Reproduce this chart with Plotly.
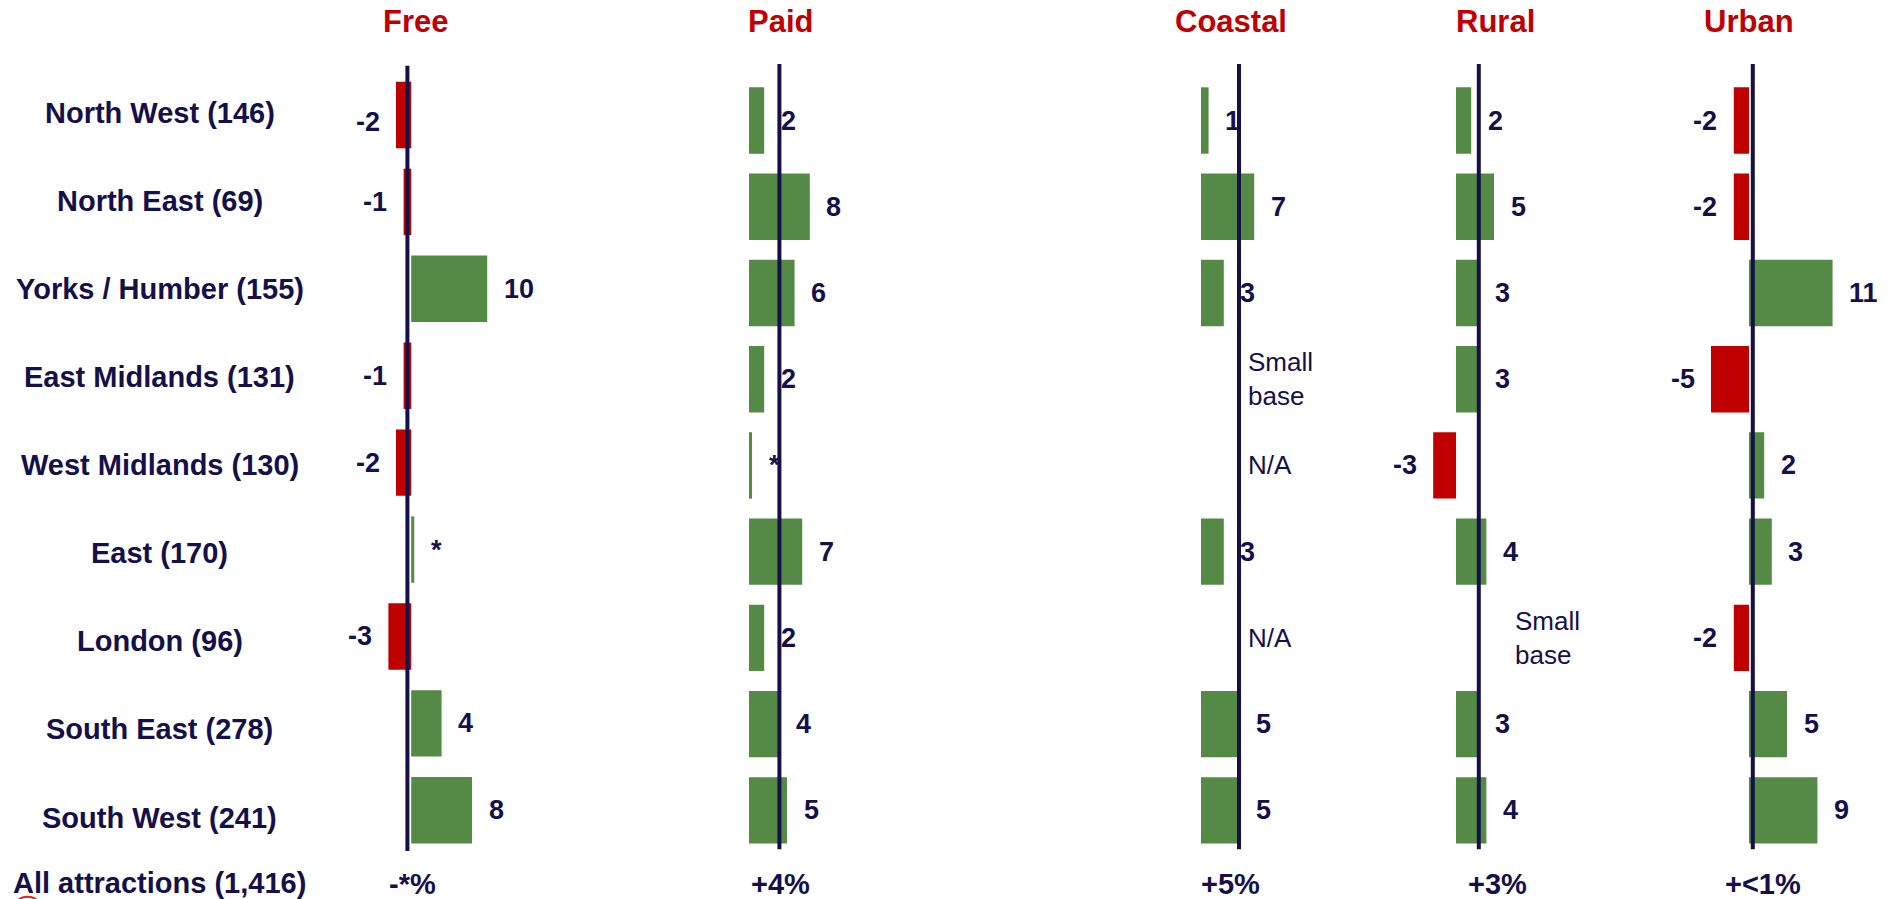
import plotly.graph_objects as go

# ---- data -------------------------------------------------------------
regions = [
    "North West (146)", "North East (69)", "Yorks / Humber (155)",
    "East Midlands (131)", "West Midlands (130)", "East (170)",
    "London (96)", "South East (278)", "South West (241)",
]
segments = ["Free", "Paid", "Coastal", "Rural", "Urban"]

# % change by region; None = no figure shown (see notes)
free = [-2, -1, 10, -1, -2, 0.4, -3, 4, 8]
paid = [2, 8, 6, 2, 0.4, 7, 2, 4, 5]
coastal = [1, 7, 3, None, None, 3, None, 5, 5]
rural = [2, 5, 3, 3, -3, 4, None, 3, 4]
urban = [-2, -2, 11, -5, 2, 3, -2, 5, 9]

# overall change for all attractions in each segment
totals = [-0.5, 4, 5, 3, 0.5]
total_labels = ["-*%", "+4%", "+5%", "+3%", "+<1%"]
total_row_label = "All attractions (1,416)"

coastal_notes = {3: "Small<br>base", 4: "N/A", 6: "N/A"}
rural_notes = {6: "Small<br>base"}

series = [free, paid, coastal, rural, urban]
notes = [{}, {}, coastal_notes, rural_notes, {}]

# ---- styling / layout -------------------------------------------------
W, H = 1896, 899
NAVY = "#15104A"
RED = "#C00000"
GREEN = "#548A45"
FONT = "Liberation Sans, Arial, sans-serif"

PX_PER_UNIT = 7.6
# (zero position, left edge, right edge) of each panel in pixels
panel_px = [
    (411.2, 330, 620),
    (749.0, 700, 900),
    (1201.0, 1150, 1380),
    (1456.0, 1400, 1640),
    (1749.0, 1690, 1896),
]
title_cx = [415.4, 780, 1231, 1495.5, 1749]
total_cx = [412.5, 780, 1230.6, 1497, 1762.5]
note_shift = [0, 0, 7, 34, 0]
# (panel, row) -> vertical nudge of the value label in px
label_nudge = {(0, 0): -7}

# row geometry: first-row centre and pitch (px); Free panel sits slightly apart
row_geom = {"y": (115.0, 86.91), "y2": (120.5, 86.23)}
bar_px = 66.4
line_span = {"y": (65.7, 851.0), "y2": (64.0, 849.3)}

LABEL_CX = 159.5
LABEL_TOP = 112.7
LABEL_PITCH = 88.1


def paper_x(px):
    return px / W


def paper_y(py):
    return 1 - py / H


def label_for(v):
    if abs(v) < 0.5:
        return "*"
    return f"{v:.0f}"


fig = go.Figure()
annotations = []
shapes = []
layout_axes = {}

for k, (name, vals) in enumerate(zip(segments, series)):
    n = k + 1
    xname = "x" if n == 1 else f"x{n}"
    yname = "y" if n == 1 else "y2"
    zero, d0, d1 = panel_px[k]
    c0, pitch = row_geom[yname]

    layout_axes["xaxis" if n == 1 else f"xaxis{n}"] = dict(
        domain=[paper_x(d0), paper_x(d1)],
        range=[(d0 - zero) / PX_PER_UNIT, (d1 - zero) / PX_PER_UNIT],
        anchor=yname, visible=False, fixedrange=True,
    )

    rows = [i for i, v in enumerate(vals) if v is not None]
    xs = [vals[i] for i in rows]
    fig.add_trace(go.Bar(
        x=xs, y=rows, orientation="h",
        width=bar_px / pitch,
        marker=dict(color=[GREEN if v >= 0 else RED for v in xs], line_width=0),
        xaxis=xname, yaxis=yname, hoverinfo="skip", showlegend=False,
    ))

    # value labels
    for i, v in zip(rows, xs):
        pos = v >= 0
        annotations.append(dict(
            x=v, y=i, xref=xname, yref=yname, text=label_for(v),
            xanchor="left" if pos else "right", yanchor="middle",
            xshift=14.5 if pos else -14.5,
            yshift=label_nudge.get((k, i), 0), showarrow=False,
            font=dict(family=FONT, size=27, color=NAVY, weight="bold"),
        ))

    # notes where no figure is shown
    for i, txt in notes[k].items():
        annotations.append(dict(
            x=totals[k], y=i, xref=xname, yref=yname, text=txt,
            xanchor="left", yanchor="middle", align="left",
            xshift=note_shift[k], showarrow=False,
            font=dict(family=FONT, size=26, color=NAVY),
        ))

    # reference line at the all-attractions change
    ly0, ly1 = line_span[yname]
    shapes.append(dict(
        type="line", xref=xname, yref="paper",
        x0=totals[k], x1=totals[k], y0=paper_y(ly1), y1=paper_y(ly0),
        line=dict(color=NAVY, width=4), layer="above",
    ))

    # segment heading and overall value
    annotations.append(dict(
        x=paper_x(title_cx[k]), y=paper_y(21), xref="paper", yref="paper",
        text=name, xanchor="center", yanchor="middle", showarrow=False,
        font=dict(family=FONT, size=31, color=RED, weight="bold"),
    ))
    annotations.append(dict(
        x=paper_x(total_cx[k]), y=paper_y(884), xref="paper", yref="paper",
        text=total_labels[k], xanchor="center", yanchor="middle", showarrow=False,
        font=dict(family=FONT, size=29, color=NAVY, weight="bold"),
    ))

# region labels down the left
for i, reg in enumerate(regions):
    annotations.append(dict(
        x=paper_x(LABEL_CX), y=paper_y(LABEL_TOP + LABEL_PITCH * i),
        xref="paper", yref="paper", text=reg,
        xanchor="center", yanchor="middle", showarrow=False,
        font=dict(family=FONT, size=29, color=NAVY, weight="bold"),
    ))
annotations.append(dict(
    x=paper_x(LABEL_CX), y=paper_y(883.3), xref="paper", yref="paper",
    text=total_row_label, xanchor="center", yanchor="middle", showarrow=False,
    font=dict(family=FONT, size=29, color=NAVY, weight="bold"),
))

# small red emblem peeking in at the bottom-left corner
shapes.append(dict(
    type="circle", xref="paper", yref="paper",
    x0=paper_x(14), x1=paper_x(41), y0=paper_y(920), y1=paper_y(896.8),
    line=dict(color="#E0201B", width=2), layer="above",
))

for yname, (c0, pitch) in row_geom.items():
    key = "yaxis" if yname == "y" else "yaxis2"
    layout_axes[key] = dict(
        domain=[0, 1], range=[(H - c0) / pitch, (0 - c0) / pitch],
        anchor="x" if yname == "y" else "x2",
        visible=False, fixedrange=True,
    )

fig.update_layout(
    width=W, height=H,
    margin=dict(l=0, r=0, t=0, b=0),
    paper_bgcolor="white", plot_bgcolor="white",
    showlegend=False,
    annotations=annotations,
    shapes=shapes,
    **layout_axes,
)

fig.write_html("out.html", config={"displayModeBar": False})
